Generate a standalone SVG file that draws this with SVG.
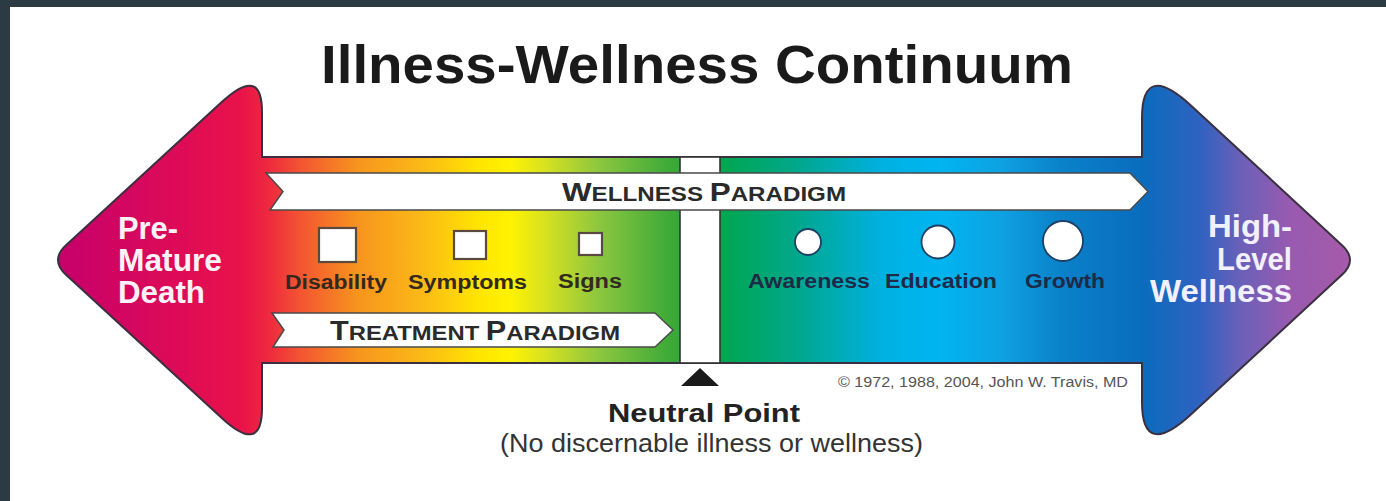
<svg xmlns="http://www.w3.org/2000/svg" width="1386" height="501" viewBox="0 0 1386 501">
<defs>
<linearGradient id="spectrum" gradientUnits="userSpaceOnUse" x1="50" y1="0" x2="1358" y2="0">
<stop offset="0" stop-color="#c4006c"/>
<stop offset="0.076" stop-color="#d8085c"/>
<stop offset="0.145" stop-color="#e8124a"/>
<stop offset="0.168" stop-color="#ef2a3e"/>
<stop offset="0.191" stop-color="#f35432"/>
<stop offset="0.235" stop-color="#f7941d"/>
<stop offset="0.283" stop-color="#fbb817"/>
<stop offset="0.329" stop-color="#ffe600"/>
<stop offset="0.352" stop-color="#fff200"/>
<stop offset="0.378" stop-color="#d8e21f"/>
<stop offset="0.420" stop-color="#8cc63f"/>
<stop offset="0.474" stop-color="#3daa38"/>
<stop offset="0.497" stop-color="#1ea843"/>
<stop offset="0.516" stop-color="#00a651"/>
<stop offset="0.573" stop-color="#00a88e"/>
<stop offset="0.635" stop-color="#00b0e0"/>
<stop offset="0.680" stop-color="#00b5f0"/>
<stop offset="0.726" stop-color="#0ea2e2"/>
<stop offset="0.772" stop-color="#0a82ca"/>
<stop offset="0.835" stop-color="#0a6cbd"/>
<stop offset="0.879" stop-color="#2f62c0"/>
<stop offset="0.910" stop-color="#6a60b8"/>
<stop offset="0.948" stop-color="#985ab0"/>
<stop offset="1" stop-color="#a85aa8"/>
</linearGradient>
</defs>
<style>
.sans{font-family:"Liberation Sans",Arial,sans-serif}
.b{font-weight:bold}
.band{fill:#fff;stroke:#4a4a4a;stroke-width:1.5}
.bandtxt{fill:#2a2a2a}
.lbl{font-size:20px;font-weight:bold;fill:#33291f}
.lblw{font-size:20px;font-weight:bold;fill:#1c2a48}
.sq{fill:#fff;stroke:#5a4a3e;stroke-width:2.2}
.ci{fill:#fff;stroke:#1d3f63;stroke-width:1.8}
.end{font-size:31px;font-weight:bold}
</style>
<rect x="0" y="0" width="1386" height="501" fill="#ffffff"/>
<rect x="0" y="0" width="1386" height="7" fill="#2b3a43"/>
<rect x="0" y="0" width="10" height="501" fill="#2b3a43"/>

<g id="title">
<text class="sans b" x="321" y="83" font-size="54" fill="#1a1a1a" textLength="752" lengthAdjust="spacingAndGlyphs">Illness-Wellness Continuum</text>
</g>

<g id="continuum-arrow">
<path d="M 262,157 L 1142,157 L 1142,118 Q 1142,60 1192,106.5 L 1342,245.2 Q 1358,260 1342,274.8 L 1192,413.5 Q 1142,460 1142,402 L 1142,363 L 262,363 L 262,408 Q 262,455 222,418.2 L 66,274.7 Q 50,260 66,245.3 L 222,101.8 Q 262,65 262,112 Z" fill="url(#spectrum)" stroke="#3a3040" stroke-width="2" stroke-linejoin="round"/>
</g>

<g id="neutral-bar">
<rect x="680" y="157" width="40" height="206" fill="#fff" stroke="#333" stroke-width="1.6"/>
</g>

<g id="wellness-paradigm">
<polygon class="band" points="266,173 1130,173 1148,191.5 1130,210 270,210 283,191.5"/>
<text class="sans b bandtxt" x="562" y="201" textLength="284" lengthAdjust="spacingAndGlyphs"><tspan font-size="26">W</tspan><tspan font-size="20">ELLNESS </tspan><tspan font-size="26">P</tspan><tspan font-size="20">ARADIGM</tspan></text>
</g>

<g id="treatment-paradigm">
<polygon class="band" points="272,313 655,313 673,330 655,347 273,347 284,330"/>
<text class="sans b bandtxt" x="330" y="340" textLength="290" lengthAdjust="spacingAndGlyphs"><tspan font-size="27">T</tspan><tspan font-size="21">REATMENT </tspan><tspan font-size="27">P</tspan><tspan font-size="21">ARADIGM</tspan></text>
</g>

<g id="premature-death">
<text class="sans end" fill="#fff2f6" x="118" y="239" textLength="60" lengthAdjust="spacingAndGlyphs">Pre-</text>
<text class="sans end" fill="#fff2f6" x="118" y="271" textLength="104" lengthAdjust="spacingAndGlyphs">Mature</text>
<text class="sans end" fill="#fff2f6" x="118" y="303" textLength="87" lengthAdjust="spacingAndGlyphs">Death</text>
</g>

<g id="high-level-wellness">
<text class="sans end" fill="#f2f0ff" x="1208" y="237" textLength="84" lengthAdjust="spacingAndGlyphs">High-</text>
<text class="sans end" fill="#f2f0ff" x="1217" y="270" textLength="75" lengthAdjust="spacingAndGlyphs">Level</text>
<text class="sans end" fill="#f2f0ff" x="1150" y="302" textLength="142" lengthAdjust="spacingAndGlyphs">Wellness</text>
</g>

<g id="disability">
<rect class="sq" x="319" y="228" width="37" height="34"/>
<text class="sans lbl" x="285" y="289" textLength="102" lengthAdjust="spacingAndGlyphs">Disability</text>
</g>
<g id="symptoms">
<rect class="sq" x="454" y="231" width="32" height="28"/>
<text class="sans lbl" x="408" y="289" textLength="119" lengthAdjust="spacingAndGlyphs">Symptoms</text>
</g>
<g id="signs">
<rect class="sq" x="579" y="233" width="23" height="22"/>
<text class="sans lbl" x="558" y="288" textLength="64" lengthAdjust="spacingAndGlyphs">Signs</text>
</g>

<g id="awareness">
<circle class="ci" cx="808" cy="242" r="13"/>
<text class="sans lblw" x="748" y="288" textLength="122" lengthAdjust="spacingAndGlyphs">Awareness</text>
</g>
<g id="education">
<circle class="ci" cx="938" cy="242" r="16.5"/>
<text class="sans lblw" x="885" y="288" textLength="112" lengthAdjust="spacingAndGlyphs">Education</text>
</g>
<g id="growth">
<circle class="ci" cx="1063" cy="241" r="20"/>
<text class="sans lblw" x="1025" y="288" textLength="80" lengthAdjust="spacingAndGlyphs">Growth</text>
</g>

<g id="connectors">
<polygon id="neutral-marker" points="700,368 719,386 681,386" fill="#1a1a1a"/>
</g>

<g id="neutral-point">
<text class="sans b" x="608" y="422" font-size="25" fill="#222" textLength="192" lengthAdjust="spacingAndGlyphs">Neutral Point</text>
<text class="sans" x="500" y="452" font-size="25" fill="#333" textLength="423" lengthAdjust="spacingAndGlyphs">(No discernable illness or wellness)</text>
</g>

<g id="copyright">
<text class="sans" x="838" y="387" font-size="14" fill="#555" textLength="290" lengthAdjust="spacingAndGlyphs">© 1972, 1988, 2004, John W. Travis, MD</text>
</g>
</svg>
